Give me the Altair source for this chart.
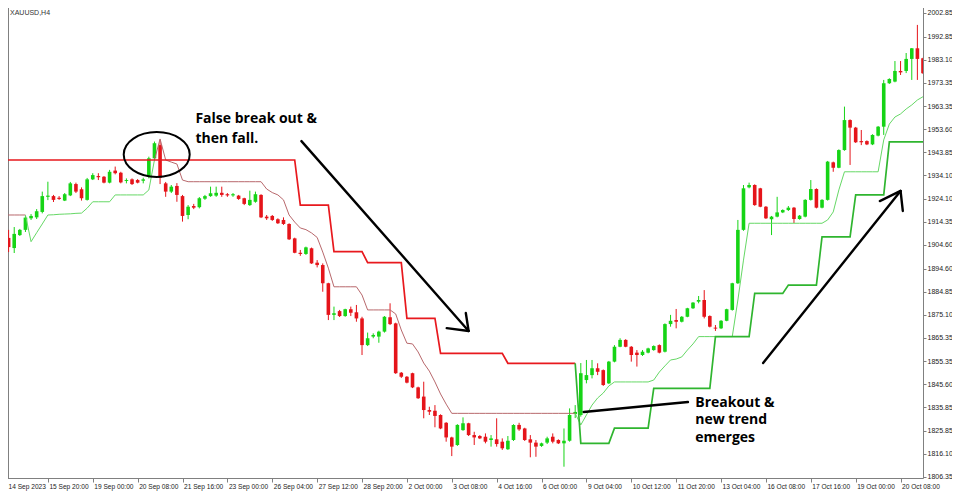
import altair as alt
import pandas as pd

# ---------------- data (XAUUSD H4) ----------------
bar_open = [
    1908.5, 1907.6, 1903.3, 1908.8, 1911.0, 1915.9, 1916.3, 1918.6, 1925.0, 1925.3,
    1924.6, 1923.4, 1925.6, 1930.4, 1928.2, 1923.7, 1932.4, 1933.8, 1933.5, 1931.0,
    1936.1, 1935.2, 1931.7, 1932.4, 1932.1, 1931.8, 1933.5, 1941.3, 1946.9, 1930.7,
    1927.2, 1929.6, 1925.3, 1917.3, 1921.1, 1920.6, 1924.2, 1925.3, 1925.5, 1926.7,
    1926.1, 1925.6, 1925.5, 1924.4, 1921.5, 1922.9, 1925.8, 1916.6, 1916.9, 1915.5,
    1915.2, 1913.5, 1907.4, 1901.3, 1900.8, 1903.2, 1897.1, 1896.1, 1888.4, 1875.0,
    1876.6, 1874.5, 1877.4, 1876.1, 1873.5, 1862.2, 1865.8, 1865.8, 1867.9, 1874.0,
    1871.4, 1850.5, 1848.8, 1850.3, 1844.3, 1840.4, 1834.7, 1834.4, 1832.6, 1829.3,
    1823.1, 1819.9, 1826.2, 1829.1, 1824.1, 1823.7, 1823.4, 1822.0, 1822.3, 1821.3,
    1818.1, 1822.0, 1828.4, 1826.9, 1822.3, 1820.9, 1819.5, 1820.9, 1823.4, 1822.0,
    1820.6, 1821.7, 1833.0, 1832.6, 1847.4, 1849.5, 1852.4, 1851.6, 1846.0, 1855.2,
    1861.5, 1864.4, 1861.5, 1859.0, 1858.0, 1859.0, 1860.1, 1862.2, 1859.4, 1871.1,
    1872.8, 1872.1, 1874.2, 1877.8, 1880.6, 1881.3, 1874.5, 1869.6, 1869.3, 1872.5,
    1877.1, 1888.4, 1911.0, 1929.0, 1930.0, 1928.6, 1920.8, 1915.5, 1916.6, 1918.4,
    1919.4, 1920.4, 1915.6, 1916.6, 1923.7, 1928.3, 1920.4, 1923.7, 1939.6, 1937.3,
    1944.8, 1957.5, 1954.3, 1948.6, 1948.6, 1947.2, 1950.9, 1954.7, 1973.1, 1973.8,
    1978.3, 1978.3, 1983.4, 1987.9, 1983.7,
]
bar_high = [
    1909.7, 1911.0, 1912.2, 1911.4, 1916.9, 1917.7, 1919.8, 1927.2, 1931.4, 1925.8,
    1925.3, 1926.6, 1931.3, 1931.0, 1929.0, 1933.0, 1935.0, 1935.0, 1933.8, 1936.4,
    1937.8, 1935.6, 1932.8, 1932.8, 1932.5, 1933.1, 1942.0, 1948.4, 1949.1, 1931.3,
    1930.0, 1930.8, 1925.8, 1921.5, 1922.0, 1924.9, 1925.8, 1929.3, 1929.3, 1929.3,
    1926.6, 1926.6, 1925.8, 1924.6, 1927.6, 1927.2, 1926.1, 1917.3, 1917.3, 1915.9,
    1916.3, 1913.8, 1907.7, 1902.5, 1903.9, 1903.5, 1898.2, 1896.8, 1888.6, 1878.5,
    1877.1, 1877.6, 1878.5, 1879.2, 1874.2, 1867.5, 1867.2, 1868.3, 1874.5, 1879.9,
    1871.7, 1850.8, 1849.1, 1850.5, 1844.6, 1846.7, 1836.1, 1836.8, 1832.9, 1829.6,
    1823.4, 1828.7, 1831.6, 1829.3, 1825.5, 1824.1, 1824.8, 1824.1, 1831.2, 1822.7,
    1823.7, 1828.7, 1829.3, 1827.2, 1824.1, 1822.0, 1820.9, 1823.4, 1824.8, 1822.3,
    1826.9, 1835.4, 1836.8, 1854.6, 1855.9, 1855.9, 1854.5, 1851.9, 1855.5, 1862.2,
    1865.1, 1864.7, 1861.8, 1860.1, 1860.1, 1861.1, 1862.1, 1862.5, 1871.4, 1875.0,
    1877.5, 1874.5, 1878.0, 1880.4, 1883.0, 1885.5, 1874.8, 1870.7, 1872.8, 1877.6,
    1888.6, 1915.2, 1930.0, 1931.0, 1930.3, 1928.8, 1921.1, 1916.9, 1925.0, 1919.7,
    1921.1, 1920.7, 1917.3, 1924.0, 1932.1, 1928.6, 1924.0, 1940.2, 1939.9, 1945.1,
    1963.2, 1957.8, 1954.6, 1953.3, 1948.9, 1951.5, 1955.0, 1974.5, 1975.2, 1982.5,
    1982.5, 1985.9, 1988.0, 1997.8, 1983.9,
]
bar_low = [
    1904.6, 1901.6, 1901.2, 1908.4, 1910.1, 1915.2, 1915.6, 1918.0, 1923.6, 1922.8,
    1923.7, 1923.2, 1925.3, 1926.6, 1923.4, 1923.4, 1932.1, 1932.1, 1930.7, 1930.7,
    1934.5, 1930.7, 1930.7, 1930.0, 1930.7, 1930.7, 1932.8, 1940.9, 1930.4, 1925.0,
    1926.6, 1922.9, 1914.5, 1915.5, 1919.8, 1920.1, 1923.7, 1925.0, 1925.0, 1925.0,
    1925.0, 1925.0, 1923.7, 1921.5, 1921.1, 1922.5, 1916.0, 1915.2, 1914.8, 1913.5,
    1913.1, 1906.7, 1901.1, 1900.0, 1900.4, 1896.6, 1895.1, 1884.8, 1872.8, 1872.8,
    1874.1, 1874.2, 1874.5, 1872.1, 1858.0, 1861.8, 1865.1, 1863.2, 1867.5, 1870.7,
    1850.0, 1848.3, 1846.0, 1844.0, 1839.4, 1831.2, 1832.6, 1827.4, 1826.6, 1821.3,
    1815.2, 1819.5, 1825.9, 1823.7, 1819.9, 1822.4, 1820.6, 1819.2, 1819.2, 1817.8,
    1817.8, 1821.6, 1825.9, 1821.6, 1814.7, 1814.9, 1819.1, 1820.3, 1820.6, 1820.3,
    1810.7, 1821.3, 1831.3, 1831.9, 1846.0, 1848.1, 1849.5, 1844.9, 1845.7, 1854.9,
    1861.3, 1861.3, 1855.2, 1853.1, 1857.6, 1858.7, 1859.8, 1858.7, 1859.1, 1870.0,
    1869.3, 1871.8, 1874.0, 1877.5, 1879.9, 1873.5, 1869.7, 1868.2, 1869.0, 1872.3,
    1876.8, 1888.1, 1910.6, 1928.6, 1921.2, 1920.6, 1915.6, 1908.8, 1916.3, 1918.1,
    1919.0, 1913.9, 1915.3, 1916.3, 1923.4, 1920.1, 1920.1, 1923.4, 1935.6, 1937.1,
    1944.5, 1938.5, 1947.8, 1946.9, 1946.9, 1946.9, 1950.6, 1951.2, 1972.8, 1973.5,
    1976.6, 1977.4, 1974.5, 1974.5, 1977.0,
]
bar_close = [
    1906.4, 1903.7, 1909.3, 1911.0, 1916.2, 1916.9, 1918.9, 1925.3, 1925.5, 1923.7,
    1924.1, 1926.1, 1930.7, 1927.2, 1924.4, 1932.4, 1934.2, 1933.3, 1931.0, 1935.6,
    1935.0, 1931.1, 1932.1, 1930.4, 1931.0, 1932.4, 1941.3, 1947.7, 1933.0, 1927.2,
    1929.3, 1925.8, 1916.9, 1920.8, 1920.4, 1924.4, 1925.3, 1926.5, 1926.7, 1925.8,
    1925.6, 1926.1, 1924.1, 1922.0, 1923.7, 1926.1, 1916.3, 1915.9, 1915.2, 1913.8,
    1913.5, 1907.0, 1901.3, 1900.8, 1903.6, 1896.8, 1896.1, 1888.4, 1875.0, 1875.7,
    1874.5, 1877.4, 1875.9, 1873.5, 1862.2, 1865.1, 1866.5, 1867.9, 1874.2, 1871.1,
    1850.3, 1848.8, 1846.3, 1844.3, 1839.7, 1834.7, 1834.0, 1832.2, 1826.9, 1823.1,
    1819.2, 1828.4, 1829.1, 1824.1, 1823.1, 1822.7, 1821.3, 1822.7, 1820.3, 1818.5,
    1821.7, 1828.4, 1826.5, 1822.0, 1820.9, 1819.2, 1820.6, 1822.7, 1821.3, 1820.6,
    1821.7, 1832.6, 1833.9, 1850.3, 1849.5, 1852.4, 1850.9, 1845.3, 1855.2, 1861.5,
    1864.4, 1861.5, 1858.0, 1858.0, 1859.4, 1860.8, 1861.8, 1859.0, 1871.1, 1872.5,
    1872.1, 1874.2, 1877.8, 1880.2, 1881.3, 1874.2, 1870.0, 1869.2, 1872.5, 1877.4,
    1888.4, 1911.0, 1928.6, 1930.0, 1921.5, 1920.8, 1915.9, 1916.6, 1918.4, 1919.4,
    1920.4, 1915.6, 1917.0, 1923.7, 1928.3, 1920.4, 1923.7, 1939.9, 1937.3, 1944.8,
    1957.5, 1954.3, 1948.1, 1948.1, 1947.2, 1951.2, 1954.7, 1973.1, 1974.9, 1978.3,
    1977.7, 1983.4, 1987.9, 1983.4, 1977.3,
]

# slow trailing stop (thick line), one value per bar
thick_stop = [
    1940.6, 1940.6, 1940.6, 1940.6, 1940.6, 1940.6, 1940.6, 1940.6, 1940.6, 1940.6,
    1940.6, 1940.6, 1940.6, 1940.6, 1940.6, 1940.6, 1940.6, 1940.6, 1940.6, 1940.6,
    1940.6, 1940.6, 1940.6, 1940.6, 1940.6, 1940.6, 1940.6, 1940.6, 1940.6, 1940.6,
    1940.6, 1940.6, 1940.6, 1940.6, 1940.6, 1940.6, 1940.6, 1940.6, 1940.6, 1940.6,
    1940.6, 1940.6, 1940.6, 1940.6, 1940.6, 1940.6, 1940.6, 1940.6, 1940.6, 1940.6,
    1940.6, 1940.6, 1940.6, 1921.5, 1921.5, 1921.5, 1921.5, 1921.5, 1921.5, 1901.8,
    1901.8, 1901.8, 1901.8, 1901.8, 1901.8, 1897.1, 1897.1, 1897.1, 1897.1, 1897.1,
    1897.1, 1897.1, 1873.5, 1873.5, 1873.5, 1873.5, 1873.5, 1873.5, 1858.7, 1858.7,
    1858.7, 1858.7, 1858.7, 1858.7, 1858.7, 1858.7, 1858.7, 1858.7, 1858.7, 1858.7,
    1854.5, 1854.5, 1854.5, 1854.5, 1854.5, 1854.5, 1854.5, 1854.5, 1854.5, 1854.5,
    1854.5, 1854.5, 1854.5, 1820.6, 1820.6, 1820.6, 1820.6, 1820.6, 1820.6, 1827.0,
    1827.0, 1827.0, 1827.0, 1827.0, 1827.0, 1827.0, 1843.9, 1843.9, 1843.9, 1843.9,
    1843.9, 1843.9, 1843.9, 1843.9, 1843.9, 1843.9, 1843.9, 1865.8, 1865.8, 1865.8,
    1865.8, 1865.8, 1865.8, 1865.8, 1884.1, 1884.1, 1884.1, 1884.1, 1884.1, 1884.1,
    1887.6, 1887.6, 1887.6, 1887.6, 1887.6, 1887.6, 1908.0, 1908.0, 1908.0, 1908.0,
    1908.0, 1908.0, 1925.8, 1925.8, 1925.8, 1925.8, 1925.8, 1925.8, 1948.3, 1948.3,
    1948.3, 1948.3, 1948.3, 1948.3, 1948.3,
]
# fast trailing stop (thin line), one value per bar
thin_stop = [
    1917.3, 1917.3, 1917.3, 1917.3, 1917.3, 1906.0, 1909.8, 1913.5, 1917.3, 1917.4,
    1917.6, 1917.7, 1917.8, 1918.0, 1918.1, 1920.2, 1922.9, 1922.9, 1922.9, 1922.9,
    1925.8, 1925.8, 1925.8, 1925.8, 1925.8, 1925.8, 1927.9, 1940.6, 1949.5, 1940.6,
    1939.7, 1938.9, 1932.1, 1931.4, 1931.4, 1931.4, 1931.4, 1931.4, 1931.4, 1931.4,
    1931.4, 1931.4, 1931.4, 1931.4, 1931.4, 1931.4, 1931.4, 1928.3, 1926.8, 1925.8,
    1923.7, 1917.3, 1914.3, 1911.8, 1911.1, 1909.7, 1907.8, 1901.6, 1894.8, 1886.9,
    1886.9, 1886.9, 1886.9, 1886.9, 1883.4, 1877.1, 1877.1, 1877.1, 1877.1, 1877.1,
    1875.4, 1868.6, 1863.0, 1862.7, 1859.3, 1854.6, 1851.2, 1846.6, 1841.5, 1837.2,
    1833.3, 1833.3, 1833.3, 1833.3, 1833.3, 1833.3, 1833.3, 1833.3, 1833.3, 1833.3,
    1833.3, 1833.3, 1833.3, 1833.3, 1833.3, 1833.3, 1833.3, 1833.3, 1833.3, 1833.3,
    1833.3, 1833.3, 1833.3, 1828.4, 1832.6, 1836.8, 1839.8, 1841.9, 1844.9, 1846.6,
    1846.6, 1846.6, 1846.6, 1846.6, 1846.6, 1846.6, 1847.4, 1850.8, 1853.4, 1855.9,
    1856.3, 1857.2, 1860.1, 1862.7, 1865.8, 1865.8, 1865.8, 1865.8, 1865.8, 1865.8,
    1865.8, 1881.3, 1898.2, 1913.8, 1913.8, 1913.8, 1913.8, 1913.8, 1913.8, 1913.8,
    1913.8, 1913.8, 1913.8, 1913.8, 1913.8, 1913.8, 1913.8, 1915.2, 1918.6, 1927.9,
    1935.6, 1935.6, 1935.6, 1935.6, 1935.6, 1935.6, 1935.6, 1949.1, 1955.8, 1958.8,
    1960.1, 1962.2, 1963.9, 1966.0, 1967.4,
]
# trend regimes of the two stops: (first bar, last bar, direction)
thick_regimes = [(0, 102, "down"), (102, 164, "up")]
thin_regimes = [(0, 4, "down"), (4, 27, "up"), (27, 102, "down"), (102, 164, "up")]

x_tick_bars = [0, 8, 16, 24, 32, 40, 48, 56, 64, 72, 80, 88, 96, 104, 112, 120, 128, 136, 144, 152, 160]
x_tick_labels = [
    "14 Sep 2023", "15 Sep 20:00", "19 Sep 00:00", "20 Sep 08:00", "21 Sep 16:00",
    "23 Sep 00:00", "26 Sep 04:00", "27 Sep 12:00", "28 Sep 20:00", "2 Oct 00:00",
    "3 Oct 08:00", "4 Oct 16:00", "6 Oct 00:00", "9 Oct 04:00", "10 Oct 12:00",
    "11 Oct 20:00", "13 Oct 04:00", "16 Oct 08:00", "17 Oct 16:00", "19 Oct 00:00",
    "20 Oct 08:00",
]
y_tick_values = [
    2002.85, 1992.85, 1983.10, 1973.35, 1963.35, 1953.60, 1943.85, 1934.10, 1924.10,
    1914.35, 1904.60, 1894.60, 1884.85, 1875.10, 1865.35, 1855.35, 1845.60, 1835.85,
    1825.85, 1816.10, 1806.35,
]

# annotations (bar index, price)
note_texts = ["False break out &", "then fall.", "Breakout &", "new trend", "emerges"]
note_bar = [34.3, 34.3, 123.4, 123.4, 123.4]
note_price = [1956.3, 1947.8, 1836.0, 1828.6, 1821.0]
arrow_x0 = [53.2, 79.1, 82.5, 103.5, 135.5, 156.3, 160.4]
arrow_y0 = [1948.6, 1869.4, 1875.8, 1833.9, 1854.6, 1923.2, 1919.0]
arrow_x1 = [83.0, 83.0, 83.0, 122.1, 160.0, 160.0, 160.0]
arrow_y1 = [1868.2, 1868.2, 1868.2, 1838.1, 1927.5, 1927.5, 1927.5]
circle_bar = [27.4]
circle_price = [1942.9]

# ---------------- styling ----------------
GREEN = "#16d416"
RED = "#e5141a"
THICK_RED = "#e8191e"
THICK_GREEN = "#2fb52f"
THIN_RED = "#b8686c"
THIN_GREEN = "#66d866"
GRAY = "#808080"
AX_FONT = "Liberation Sans"
W, H = 920, 475

label_js = "[" + ",".join("'" + t + "'" for t in x_tick_labels) + "][round(datum.value / 8)]"

xscale = alt.Scale(domain=[0, 164.0], nice=False, zero=False, padding=0)
yscale = alt.Scale(domain=[1805.92, 2007.08], nice=False, zero=False, padding=0)
xaxis = alt.Axis(
    values=x_tick_bars, labelExpr=label_js, title=None, grid=False, orient="bottom",
    tickSize=4, tickColor=GRAY, domainColor=GRAY, labelAlign="left", labelBaseline="top",
    labelPadding=1, labelOffset={"condition": {"test": "datum.value == 0", "value": 5}, "value": 1},
    labelFont=AX_FONT, labelFontSize=6.6, labelColor="#222",
    labelFlush=False, labelOverlap=False,
)
yaxis = alt.Axis(
    values=y_tick_values, format=".2f", title=None, grid=False, orient="right",
    tickSize=3, tickColor=GRAY, domainColor=GRAY, labelPadding=1, labelFont=AX_FONT,
    labelFontSize=7, labelColor="#222", labelFlush=False, labelOverlap=False,
    labelBaseline="middle",
)


def X(field):
    return alt.X(field, type="quantitative", scale=xscale, axis=xaxis)


def Y(field):
    return alt.Y(field, type="quantitative", scale=yscale, axis=yaxis)


candles = pd.DataFrame({"i": list(range(len(bar_open))), "o": bar_open, "h": bar_high,
                        "l": bar_low, "c": bar_close})


def regime_table(values, regimes):
    rows = []
    for k, (a, b, trend) in enumerate(regimes):
        for i in range(a, b + 1):
            rows.append({"i": i, "v": values[i], "seg": k, "trend": trend})
    return pd.DataFrame(rows)


thick_df = regime_table(thick_stop, thick_regimes)
thin_df = regime_table(thin_stop, thin_regimes)

base = alt.Chart(candles)
up = "datum.c >= datum.o"
down = "datum.c < datum.o"

wick_up = base.transform_filter(up).mark_rule(color=GREEN, strokeWidth=1, clip=True).encode(
    x=X("i"), y=Y("l"), y2="h")
wick_dn = base.transform_filter(down).mark_rule(color=RED, strokeWidth=1, clip=True).encode(
    x=X("i"), y=Y("l"), y2="h")
body_up = base.transform_filter(up).mark_bar(color=GREEN, size=3.6, clip=True).encode(
    x=X("i"), y=Y("o"), y2="c")
body_dn = base.transform_filter(down).mark_bar(color=RED, size=3.6, clip=True).encode(
    x=X("i"), y=Y("o"), y2="c")


def stop_layer(df, trend, color, width):
    return alt.Chart(df).transform_filter(f"datum.trend == '{trend}'").mark_line(
        color=color, strokeWidth=width, clip=True).encode(x=X("i"), y=Y("v"), detail="seg:N")


thin_dn = stop_layer(thin_df, "down", THIN_RED, 1)
thin_up = stop_layer(thin_df, "up", THIN_GREEN, 1)
thick_dn = stop_layer(thick_df, "down", THICK_RED, 1.7)
thick_up = stop_layer(thick_df, "up", THICK_GREEN, 1.7)

arrows = alt.Chart(pd.DataFrame({"x0": arrow_x0, "y0": arrow_y0, "x1": arrow_x1, "y1": arrow_y1})).mark_rule(
    color="black", strokeWidth=2.4, strokeCap="round").encode(
    x=X("x0"), y=Y("y0"), x2="x1", y2="y1")

ellipse_path = ("M-1,0 C-1,-0.376 -0.552,-0.68 0,-0.68 C0.552,-0.68 1,-0.376 1,0 "
                "C1,0.376 0.552,0.68 0,0.68 C-0.552,0.68 -1,0.376 -1,0 Z")
circle = alt.Chart(pd.DataFrame({"i": circle_bar, "p": circle_price})).mark_point(
    shape=ellipse_path, size=4356, filled=False, color="black", strokeWidth=2, opacity=1).encode(
    x=X("i"), y=Y("p"))

notes = alt.Chart(pd.DataFrame({"i": note_bar, "p": note_price, "t": note_texts})).mark_text(
    font="Open Sans", fontWeight="bold", fontSize=14, align="left", baseline="alphabetic",
    color="black").encode(x=X("i"), y=Y("p"), text="t:N")

symbol = alt.Chart(pd.DataFrame({"t": ["XAUUSD,H4"]})).mark_text(
    font=AX_FONT, fontSize=7, align="left", baseline="top", color="#333").encode(
    x=alt.value(7), y=alt.value(6), text="t:N")

left_frame = alt.Chart(pd.DataFrame({"t": [0]})).mark_rule(color=GRAY, strokeWidth=1).encode(
    x=alt.value(5.5), y=alt.value(0), y2=alt.value(H))

chart = alt.layer(
    left_frame, wick_up, wick_dn, body_up, body_dn, thin_dn, thin_up, thick_dn, thick_up,
    circle, arrows, notes, symbol,
).properties(
    width=W, height=H,
    padding={"left": -5, "top": -5, "right": 29, "bottom": 14},
    autosize=alt.AutoSizeParams(type="none"),
    background="white",
).configure_view(stroke=None)

chart.save("out.html", embed_options={"renderer": "svg", "actions": False})
